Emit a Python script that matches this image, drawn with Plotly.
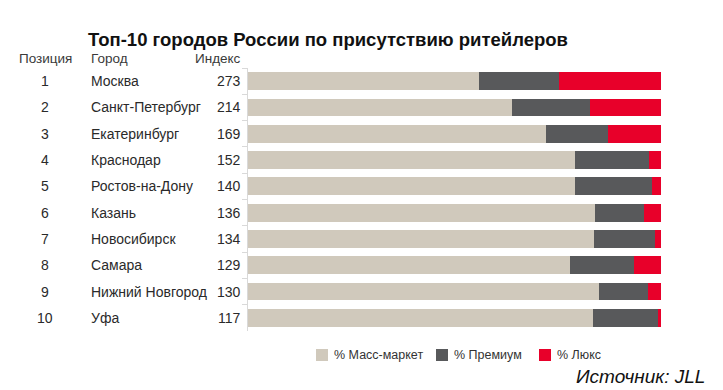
import plotly.graph_objects as go

positions = ["1", "2", "3", "4", "5", "6", "7", "8", "9", "10"]
cities = ["Москва", "Санкт-Петербург", "Екатеринбург", "Краснодар", "Ростов-на-Дону",
          "Казань", "Новосибирск", "Самара", "Нижний Новгород", "Уфа"]
index_vals = [273, 214, 169, 152, 140, 136, 134, 129, 130, 117]
mass = [55.9, 64.0, 72.2, 79.1, 79.1, 84.0, 83.7, 78.0, 84.9, 83.5]
premium = [19.3, 18.9, 14.9, 18.1, 18.6, 12.0, 14.9, 15.5, 12.0, 15.7]
lux = [24.8, 17.1, 12.9, 2.8, 2.3, 4.0, 1.4, 6.5, 3.1, 0.8]
series_names = ["% Масс-маркет", "% Премиум", "% Люкс"]
colors = ["#D0C9BC", "#58595B", "#E8002A"]

FONT = "Liberation Sans, Arial, sans-serif"
OFF = 8  # page body margin
W, H = 723 - OFF, 390 - OFF
L, R = 248 - OFF, 661 - OFF
T, B = 68 - OFF, 331 - OFF
pw, ph = R - L, B - T

def px(xp):
    return (xp - OFF - L) / pw

def py(yp):
    return (B - (yp - OFF)) / ph

fig = go.Figure()
for name, vals, col in zip(series_names, [mass, premium, lux], colors):
    fig.add_trace(go.Bar(y=cities, x=vals, name=name, orientation="h",
                         marker=dict(color=col, line=dict(width=0)), showlegend=False))

ann = []
shapes = []
for p, c, v in zip(positions, cities, index_vals):
    ann.append(dict(x=px(45), y=c, xref="paper", yref="y", text=p, showarrow=False,
                    xanchor="center", font=dict(size=14, color="#2a2a2a")))
    ann.append(dict(x=px(89), y=c, xref="paper", yref="y", text=c, showarrow=False,
                    xanchor="left", font=dict(size=14, color="#2a2a2a")))
    ann.append(dict(x=px(243), y=c, xref="paper", yref="y", text=str(v), showarrow=False,
                    xanchor="right", font=dict(size=14, color="#2a2a2a")))
for t, xp, anc in [("Позиция", 45, "center"), ("Город", 89, "left"), ("Индекс", 243, "right")]:
    ann.append(dict(x=px(xp), y=py(58.5), xref="paper", yref="paper", text=t, showarrow=False,
                    xanchor=anc, yanchor="middle", font=dict(size=13.5, color="#3a3a3a")))
ann.append(dict(x=px(707), y=py(376), xref="paper", yref="paper",
                text="<i>Источник: JLL</i>", showarrow=False, xanchor="right", yanchor="middle",
                font=dict(size=19, color="#111")))

# custom legend
leg_x = [316, 436, 539]
for name, col, lx in zip(series_names, colors, leg_x):
    shapes.append(dict(type="rect", xref="paper", yref="paper",
                       x0=px(lx), x1=px(lx + 12), y0=py(361), y1=py(349),
                       fillcolor=col, line=dict(width=0)))
    ann.append(dict(x=px(lx + 16), y=py(355), xref="paper", yref="paper", text=name,
                    showarrow=False, xanchor="left", yanchor="middle",
                    font=dict(size=12.5, color="#333")))

fig.update_layout(
    width=W, height=H,
    margin=dict(l=L, r=W - R, t=T, b=H - B),
    paper_bgcolor="white", plot_bgcolor="white",
    barmode="stack", bargap=0.32,
    font=dict(family=FONT, color="#222"),
    title=dict(text="<b>Топ-10 городов России по присутствию ритейлеров</b>",
               x=(328 - OFF) / W, xanchor="center", y=1 - (40 - OFF) / H, yanchor="middle",
               font=dict(size=18.5, color="#111", family=FONT)),
    xaxis=dict(range=[0, 100], visible=False, fixedrange=True),
    yaxis=dict(autorange="reversed", showticklabels=False, showline=True, linecolor="#d9d9d9",
               linewidth=1, ticks="outside", tickson="boundaries", ticklen=5, tickcolor="#d9d9d9",
               showgrid=False, zeroline=False),
    annotations=ann,
    shapes=shapes,
    showlegend=False,
)
fig.write_html("out.html")
